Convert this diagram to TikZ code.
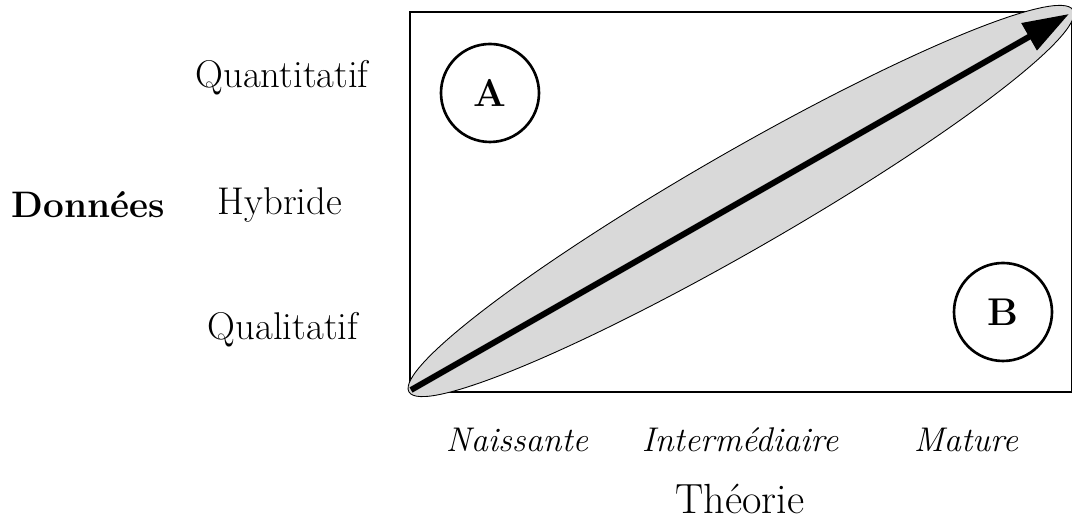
\documentclass[tikz,border=0pt]{standalone}
\usepackage{fontspec}
\usetikzlibrary{arrows.meta}
\definecolor{band}{RGB}{217,217,217}

\begin{document}
\begin{tikzpicture}[font=\fontsize{22}{26}\selectfont,
    quad/.style={draw, circle, line width=1.5pt, minimum size=1.96cm, font=\fontsize{22}{26}\selectfont\bfseries},
    niveau/.style={font=\fontsize{19.5}{23}\selectfont\itshape}]
      \useasboundingbox (0,0) rectangle (21.44,10.4);
      % cadre et bande grise
      \draw[line width=0.6pt] (8.2,2.56) rectangle (21.44,10.16);
      \coordinate (orig) at (8.22,2.6);
      \coordinate (tip) at (21.38,10.12);
      \draw[fill=band, line width=0.5pt, rotate around={29.9:(14.82,6.38)}] (14.82,6.38) ellipse (7.66 and 0.98);
      \draw[line width=3.4pt, -{Triangle[length=0.92cm,width=0.6cm]}] (orig) -- (tip);
      % quadrants
      \node[quad] (qa) at (9.8,8.54) {A};
      \node[quad] (qb) at (20.06,4.16) {B};
      % axe vertical
      \node (quanti) at (5.64,8.84) {Quantitatif};
      \node (hyb) at (5.6,6.3) {Hybride};
      \node (quali) at (5.66,3.8) {Qualitatif};
      \node[font=\fontsize{21}{25}\selectfont\bfseries] (donnees) at (1.76,6.3) {Données};
      % axe horizontal
      \node[niveau] (nais) at (10.34,1.6) {Naissante};
      \node[niveau] (inter) at (14.8,1.6) {Intermédiaire};
      \node[niveau] (mat) at (19.32,1.6) {Mature};
      \node[font=\fontsize{24}{29}\selectfont] (theo) at (14.8,0.42) {Théorie};
    \end{tikzpicture}
\end{document}
